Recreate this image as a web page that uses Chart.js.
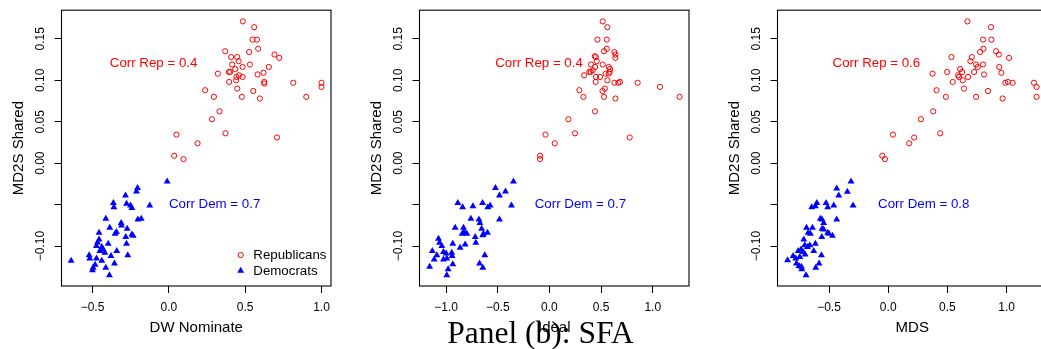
<!DOCTYPE html>
<html>
<head>
<meta charset="utf-8">
<script src="https://cdn.jsdelivr.net/npm/chart.js@4.4.1/dist/chart.umd.min.js"></script>
<style>
html,body{margin:0;padding:0;background:#fff;overflow:hidden;width:1041px;height:349px;position:relative;}
.panel{position:absolute;top:0;width:358px;height:349px;}
canvas{display:block;}
</style>
</head>
<body>
<div class="panel" style="left:0px"><canvas id="c1" width="358" height="349"></canvas></div>
<div class="panel" style="left:358px"><canvas id="c2" width="358" height="349"></canvas></div>
<div class="panel" style="left:716px"><canvas id="c3" width="358" height="349"></canvas></div>
<script>
// ---------- shared ----------
const yTitle = "MD2S Shared";
const yTickVals = [0.15, 0.10, 0.05, 0.00, -0.05, -0.10];
const yTickLabels = ["0.15", "0.10", "0.05", "0.00", "", "\u22120.10"];
const yRange = [-0.1481, 0.1845];
const seriesNames = ["Republicans", "Democrats"];
const annotX = [-0.1, 0.3];
const annotY = [0.12, -0.05];

// ---------- panel 1: DW Nominate ----------
const p1XTitle = "DW Nominate";
const p1XRange = [-0.703, 1.062];
const p1XTicks = [-0.5, 0, 0.5, 1.0];
const p1XTickLabels = ["\u22120.5", "0.0", "0.5", "1.0"];
const p1Corr = ["0.4", "0.7"];
const p1RepX = [0.485,0.559,0.548,0.577,0.585,0.526,0.369,0.408,0.448,0.457,0.415,0.435,0.531,0.483,0.321,0.393,0.402,0.459,0.443,0.483,0.441,0.395,0.581,0.620,0.625,0.625,0.655,0.692,0.723,0.815,1.000,1.000,0.900,0.478,0.596,0.553,0.448,0.238,0.295,0.332,0.282,0.371,0.050,0.188,0.035,0.096,0.708];
const p1RepY = [0.171,0.164,0.149,0.149,0.138,0.134,0.135,0.128,0.128,0.123,0.119,0.1135,0.119,0.116,0.108,0.110,0.110,0.106,0.104,0.104,0.100,0.098,0.107,0.109,0.098,0.096,0.116,0.131,0.127,0.097,0.097,0.092,0.080,0.080,0.078,0.087,0.090,0.088,0.080,0.0625,0.053,0.036,0.0345,0.024,0.009,0.005,0.031];
const p1DemX = [-0.011,-0.205,-0.212,-0.284,-0.363,-0.360,-0.277,-0.251,-0.242,-0.125,-0.413,-0.203,-0.181,-0.312,-0.273,-0.387,-0.343,-0.352,-0.457,-0.242,-0.234,-0.282,-0.467,-0.277,-0.397,-0.474,-0.439,-0.430,-0.452,-0.419,-0.341,-0.379,-0.522,-0.518,-0.474,-0.269,-0.640,-0.439,-0.356,-0.483,-0.496,-0.413,-0.500,-0.389,-0.457,-0.310];
const p1DemY = [-0.022,-0.030,-0.034,-0.039,-0.048,-0.053,-0.049,-0.051,-0.054,-0.051,-0.067,-0.068,-0.067,-0.072,-0.079,-0.078,-0.083,-0.085,-0.084,-0.086,-0.0875,-0.089,-0.0955,-0.097,-0.097,-0.100,-0.101,-0.104,-0.106,-0.108,-0.106,-0.112,-0.111,-0.115,-0.115,-0.111,-0.1175,-0.1175,-0.121,-0.1225,-0.126,-0.126,-0.129,-0.135,-0.092,-0.075];

// ---------- panel 2: Ideal ----------
const p2XTitle = "Ideal";
const p2XRange = [-1.257, 1.351];
const p2XTicks = [-1.0, -0.5, 0, 0.5, 1.0];
const p2XTickLabels = ["\u22121.0", "\u22120.5", "0.0", "0.5", "1.0"];
const p2Corr = ["0.4", "0.7"];
const p2RepX = [0.516,0.561,0.465,0.555,0.555,0.529,0.629,0.639,0.639,0.439,0.449,0.458,0.516,0.403,0.442,0.574,0.587,0.387,0.400,0.419,0.336,0.490,0.451,0.545,0.574,0.584,0.448,0.561,0.629,0.667,0.683,0.854,1.070,1.260,0.290,0.537,0.514,0.329,0.529,0.639,0.442,0.184,0.248,-0.038,0.052,-0.090,-0.090,0.777];
const p2RepY = [0.171,0.164,0.149,0.149,0.138,0.135,0.134,0.131,0.127,0.129,0.128,0.123,0.119,0.119,0.116,0.116,0.1135,0.110,0.110,0.112,0.106,0.104,0.104,0.108,0.108,0.110,0.098,0.100,0.097,0.097,0.098,0.097,0.092,0.080,0.088,0.090,0.087,0.080,0.080,0.078,0.0625,0.053,0.036,0.0345,0.024,0.009,0.005,0.031];
const p2DemX = [-0.348,-0.522,-0.425,-0.483,-0.367,-0.886,-0.840,-0.740,-0.647,-0.596,-0.573,-0.483,-0.760,-0.682,-0.672,-0.656,-0.912,-0.831,-0.825,-0.844,-0.799,-0.638,-0.599,-0.644,-0.718,-0.712,-0.935,-0.815,-0.864,-1.073,-1.063,-1.041,-1.133,-1.089,-1.115,-1.025,-0.999,-0.945,-0.942,-0.993,-1.025,-1.159,-0.935,-0.980,-0.993,-0.625,-0.676,-0.644];
const p2DemY = [-0.022,-0.030,-0.034,-0.039,-0.051,-0.048,-0.053,-0.052,-0.048,-0.053,-0.051,-0.068,-0.067,-0.068,-0.072,-0.079,-0.078,-0.078,-0.083,-0.085,-0.085,-0.085,-0.084,-0.087,-0.089,-0.096,-0.097,-0.098,-0.102,-0.091,-0.096,-0.100,-0.106,-0.111,-0.116,-0.107,-0.109,-0.108,-0.112,-0.115,-0.116,-0.125,-0.122,-0.128,-0.135,-0.111,-0.121,-0.126];

// ---------- panel 3: MDS ----------
const p3XTitle = "MDS";
const p3XRange = [-0.935, 1.341];
const p3XTicks = [-0.5, 0, 0.5, 1.0];
const p3XTickLabels = ["\u22120.5", "0.0", "0.5", "1.0"];
const p3Corr = ["0.6", "0.8"];
const p3RepX = [0.669,0.868,0.801,0.871,0.804,0.776,0.911,0.934,1.021,0.534,0.706,0.694,0.742,0.801,0.756,0.938,0.607,0.725,0.498,0.374,0.590,0.624,0.598,0.674,0.809,0.955,0.629,0.545,0.989,1.011,1.051,1.231,1.253,1.253,0.408,0.640,0.843,0.487,0.742,0.966,0.380,0.276,0.439,0.040,0.219,0.177,-0.050,-0.028];
const p3RepY = [0.171,0.164,0.149,0.149,0.138,0.134,0.135,0.131,0.127,0.128,0.128,0.123,0.119,0.119,0.116,0.116,0.1135,0.110,0.110,0.108,0.106,0.110,0.104,0.104,0.107,0.109,0.100,0.098,0.097,0.098,0.097,0.097,0.092,0.080,0.088,0.090,0.087,0.080,0.080,0.078,0.0625,0.053,0.036,0.0345,0.031,0.024,0.009,0.005];
const p3DemX = [-0.314,-0.435,-0.345,-0.418,-0.297,-0.603,-0.646,-0.615,-0.525,-0.511,-0.460,-0.435,-0.573,-0.559,-0.545,-0.559,-0.690,-0.640,-0.676,-0.657,-0.545,-0.500,-0.471,-0.561,-0.511,-0.615,-0.713,-0.705,-0.682,-0.736,-0.760,-0.718,-0.629,-0.702,-0.803,-0.747,-0.850,-0.775,-0.733,-0.753,-0.564,-0.584,-0.612,-0.730,-0.694,-0.663,-0.781];
const p3DemY = [-0.022,-0.0305,-0.0345,-0.039,-0.051,-0.048,-0.053,-0.052,-0.048,-0.053,-0.051,-0.068,-0.067,-0.068,-0.072,-0.079,-0.078,-0.078,-0.084,-0.085,-0.080,-0.085,-0.0875,-0.089,-0.084,-0.097,-0.092,-0.099,-0.101,-0.104,-0.106,-0.107,-0.106,-0.110,-0.112,-0.113,-0.117,-0.121,-0.125,-0.124,-0.111,-0.121,-0.126,-0.128,-0.135,-0.099,-0.115];

const panelTitle = "Panel (b): SFA";

// ---------- styling ----------
const SANS = '"Liberation Sans", Arial, Helvetica, sans-serif';
const SERIF = '"Liberation Serif", "Times New Roman", serif';
const RED = '#ff0000';
const BLUE = '#0000ff';
const CIRCLE_R = 2.6;
const TRI_R = 4.0;

function triPath(ctx, x, y, r) {
  ctx.beginPath();
  ctx.moveTo(x, y - r);
  ctx.lineTo(x + r * Math.sin(2 * Math.PI / 3), y - r * Math.cos(2 * Math.PI / 3));
  ctx.lineTo(x + r * Math.sin(4 * Math.PI / 3), y - r * Math.cos(4 * Math.PI / 3));
  ctx.closePath();
}

const framePlugin = {
  id: 'frame',
  afterDraw(chart, args, o) {
    const {ctx, chartArea: a, scales} = chart;
    ctx.save();
    // plot box
    ctx.strokeStyle = '#000';
    ctx.lineWidth = 1.1;
    ctx.strokeRect(a.left, a.top, a.right - a.left, a.bottom - a.top);
    // rotated y tick labels
    ctx.fillStyle = '#000';
    ctx.font = '12px ' + SANS;
    ctx.textAlign = 'center';
    ctx.textBaseline = 'middle';
    yTickVals.forEach((v, i) => {
      const lbl = yTickLabels[i];
      if (!lbl) return;
      const py = scales.y.getPixelForValue(v);
      ctx.save();
      ctx.translate(a.left - 20.5, py);
      ctx.rotate(-Math.PI / 2);
      ctx.fillText(lbl, 0, 0);
      ctx.restore();
    });
    // correlation annotations (clipped to plot region)
    ctx.save();
    ctx.beginPath();
    ctx.rect(a.left, a.top, a.right - a.left, a.bottom - a.top);
    ctx.clip();
    ctx.font = '13.3px ' + SANS;
    ctx.textAlign = 'center';
    ctx.textBaseline = 'middle';
    ctx.fillStyle = RED;
    ctx.fillText('Corr Rep = ' + o.corr[0], scales.x.getPixelForValue(annotX[0]), scales.y.getPixelForValue(annotY[0]));
    ctx.fillStyle = BLUE;
    ctx.fillText('Corr Dem = ' + o.corr[1], scales.x.getPixelForValue(annotX[1]), scales.y.getPixelForValue(annotY[1]));
    ctx.restore();
    // legend (bottom right, no box)
    if (o.legend) {
      const lx = a.right - 90.3, tx = a.right - 77.7;
      const y1 = a.bottom - 31, y2 = a.bottom - 15.3;
      ctx.strokeStyle = RED; ctx.lineWidth = 1;
      ctx.beginPath(); ctx.arc(lx, y1, CIRCLE_R, 0, Math.PI * 2); ctx.stroke();
      ctx.fillStyle = BLUE;
      triPath(ctx, lx, y2, TRI_R); ctx.fill();
      ctx.fillStyle = '#000';
      ctx.font = '13.3px ' + SANS;
      ctx.textAlign = 'left';
      ctx.textBaseline = 'middle';
      ctx.fillText(seriesNames[0], tx, y1 + 0.5);
      ctx.fillText(seriesNames[1], tx, y2 + 0.2);
    }
    // figure sub-caption
    if (o.caption) {
      ctx.fillStyle = '#000';
      ctx.font = '31.5px ' + SERIF;
      ctx.textAlign = 'center';
      ctx.textBaseline = 'alphabetic';
      ctx.fillText(o.caption, 182.5, 343);
    }
    ctx.restore();
  }
};

function makePanel(id, xTitle, xRange, xTicks, xTickLabels, repX, repY, demX, demY, corr, legend, caption) {
  const rep = repX.map((x, i) => ({x: x, y: repY[i]}));
  const dem = demX.map((x, i) => ({x: x, y: demY[i]}));
  return new Chart(document.getElementById(id), {
    type: 'scatter',
    data: {
      datasets: [
        {label: seriesNames[0], data: rep, pointStyle: 'circle', pointRadius: CIRCLE_R, pointBorderWidth: 1,
         pointBorderColor: RED, pointBackgroundColor: 'rgba(0,0,0,0)', borderColor: RED, backgroundColor: 'rgba(0,0,0,0)', showLine: false},
        {label: seriesNames[1], data: dem, pointStyle: 'triangle', pointRadius: TRI_R, pointBorderWidth: 0,
         pointBorderColor: BLUE, pointBackgroundColor: BLUE, borderColor: BLUE, backgroundColor: BLUE, showLine: false}
      ]
    },
    options: {
      responsive: false,
      animation: false,
      events: [],
      layout: {padding: {top: 8, right: 27, left: 0, bottom: 0}},
      plugins: {
        legend: {display: false},
        tooltip: {enabled: false},
        frame: {corr: corr, legend: legend, caption: caption}
      },
      scales: {
        x: {
          type: 'linear', position: 'bottom', min: xRange[0], max: xRange[1],
          afterBuildTicks: s => { s.ticks = xTicks.map(v => ({value: v})); },
          afterFit: s => { s.height = 63; },
          grid: {display: true, drawOnChartArea: false, drawTicks: true, tickLength: 7, color: '#000', lineWidth: 1},
          border: {display: false},
          ticks: {autoSkip: false, maxRotation: 0, minRotation: 0, padding: 7, color: '#000',
                  font: {family: SANS, size: 12},
                  callback: (v, i) => xTickLabels[i]},
          title: {display: true, text: xTitle, color: '#000', font: {family: SANS, size: 15},
                  padding: {top: 0, bottom: 12.5}}
        },
        y: {
          type: 'linear', position: 'left', min: yRange[0], max: yRange[1],
          afterBuildTicks: s => { s.ticks = yTickVals.map(v => ({value: v})); },
          afterFit: s => { s.width = 61.5; },
          grid: {display: true, drawOnChartArea: false, drawTicks: true, tickLength: 7, color: '#000', lineWidth: 1},
          border: {display: false},
          ticks: {color: 'rgba(0,0,0,0)', font: {family: SANS, size: 12}, callback: () => ''},
          title: {display: true, text: yTitle, color: '#000', font: {family: SANS, size: 15},
                  padding: {top: 9.7, bottom: 0}}
        }
      }
    },
    plugins: [framePlugin]
  });
}

makePanel('c1', p1XTitle, p1XRange, p1XTicks, p1XTickLabels, p1RepX, p1RepY, p1DemX, p1DemY, p1Corr, true, null);
makePanel('c2', p2XTitle, p2XRange, p2XTicks, p2XTickLabels, p2RepX, p2RepY, p2DemX, p2DemY, p2Corr, false, panelTitle);
makePanel('c3', p3XTitle, p3XRange, p3XTicks, p3XTickLabels, p3RepX, p3RepY, p3DemX, p3DemY, p3Corr, false, null);
</script>
</body>
</html>
